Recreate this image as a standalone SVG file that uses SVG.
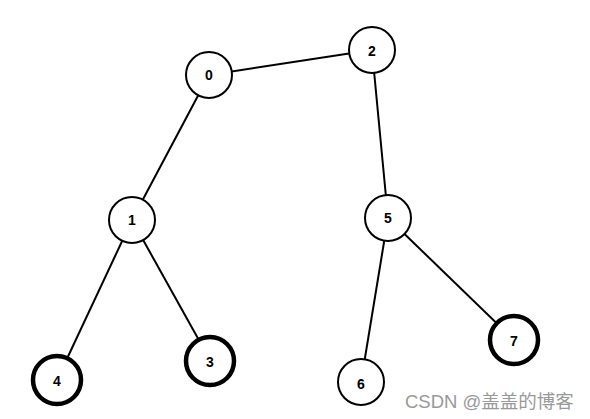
<svg xmlns="http://www.w3.org/2000/svg" width="590" height="419" viewBox="0 0 590 419">
<style>
.n{fill:#fff;stroke:#000;stroke-width:2}
.t{stroke-width:4.5}
.l{font-family:"Liberation Sans",Arial,sans-serif;font-weight:bold;font-size:14px;text-anchor:middle;dominant-baseline:central;fill:#000}
.e{stroke:#000;stroke-width:2;fill:none}
</style>
<rect width="590" height="419" fill="#fff"/>
<g id="edges">
<line class="e" x1="209" y1="75" x2="372" y2="50"/>
<line class="e" x1="209" y1="75" x2="132" y2="220"/>
<line class="e" x1="372" y1="50" x2="388" y2="218"/>
<line class="e" x1="132" y1="220" x2="57" y2="380"/>
<line class="e" x1="132" y1="220" x2="210" y2="360"/>
<line class="e" x1="388" y1="218" x2="361" y2="382"/>
<line class="e" x1="388" y1="218" x2="514" y2="340"/>
</g>
<g id="node0"><circle class="n" cx="209" cy="75" r="23"/><text class="l" x="209" y="75">0</text></g>
<g id="node2"><circle class="n" cx="372" cy="50" r="23"/><text class="l" x="372" y="51">2</text></g>
<g id="node1"><circle class="n" cx="132" cy="220" r="23"/><text class="l" x="132" y="220">1</text></g>
<g id="node5"><circle class="n" cx="388" cy="218" r="23"/><text class="l" x="388" y="218">5</text></g>
<g id="node4"><circle class="n t" cx="57" cy="380" r="24"/><text class="l" x="57" y="381">4</text></g>
<g id="node3"><circle class="n t" cx="210" cy="361" r="24"/><text class="l" x="210" y="362">3</text></g>
<g id="node6"><circle class="n" cx="361" cy="382" r="23"/><text class="l" x="361" y="384">6</text></g>
<g id="node7"><circle class="n t" cx="514" cy="340" r="24"/><text class="l" x="514" y="341">7</text></g>
<text x="405" y="408" font-family="'Liberation Sans','Noto Sans CJK SC',sans-serif" font-size="18.5" fill="#999">CSDN @盖盖的博客</text>
</svg>
